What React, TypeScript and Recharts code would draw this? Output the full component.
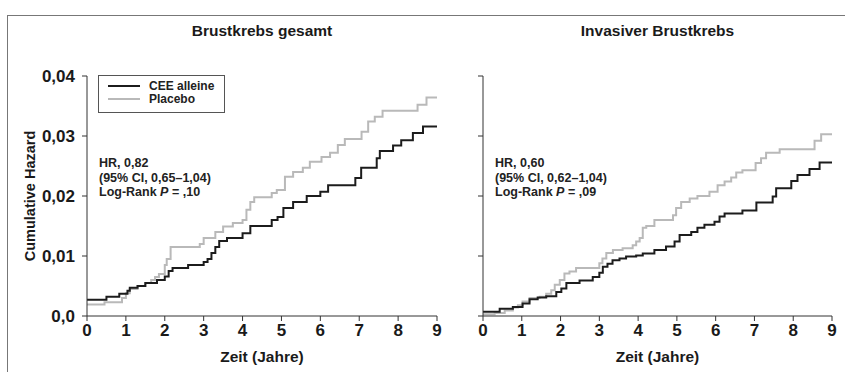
import { LineChart, Line, XAxis, YAxis } from "recharts";

// Brustkrebs gesamt
const gesamtCeeZeit = [0, 0.5, 0.83, 1.04, 1.1, 1.3, 1.5, 1.8, 2.0, 2.1, 2.2, 2.6, 3.0, 3.1, 3.2, 3.3, 3.4, 3.6, 4.0, 4.2, 4.75, 4.9, 5.05, 5.3, 5.65, 6.0, 6.2, 6.9, 7.05, 7.45, 7.53, 7.87, 8.08, 8.38, 8.64, 9.0];
const gesamtCeeHazard = [0.0027, 0.0032, 0.0037, 0.0042, 0.0047, 0.005, 0.0055, 0.006, 0.0066, 0.0075, 0.008, 0.0085, 0.009, 0.0095, 0.0105, 0.0115, 0.0125, 0.013, 0.0138, 0.015, 0.016, 0.0165, 0.018, 0.019, 0.02, 0.0207, 0.0218, 0.023, 0.0247, 0.0263, 0.0275, 0.0284, 0.0293, 0.0305, 0.0316, 0.0316];
const gesamtPlaceboZeit = [0, 0.45, 0.9, 1.0, 1.1, 1.3, 1.5, 1.65, 1.75, 1.85, 2.0, 2.05, 2.15, 2.9, 3.0, 3.3, 3.5, 3.75, 4.0, 4.1, 4.2, 4.3, 4.75, 4.88, 5.09, 5.3, 5.55, 5.73, 6.03, 6.25, 6.45, 6.63, 7.06, 7.23, 7.4, 7.6, 8.5, 8.73, 9.0];
const gesamtPlaceboHazard = [0.0019, 0.0023, 0.003, 0.0038, 0.0045, 0.005, 0.0055, 0.006, 0.0065, 0.007, 0.0085, 0.0095, 0.0115, 0.012, 0.013, 0.014, 0.0149, 0.0155, 0.016, 0.0177, 0.019, 0.0198, 0.0205, 0.021, 0.0232, 0.024, 0.0247, 0.0257, 0.0265, 0.0272, 0.0285, 0.0295, 0.0307, 0.0324, 0.0332, 0.0342, 0.0352, 0.0364, 0.0364];

// Invasiver Brustkrebs
const invasivCeeZeit = [0, 0.43, 0.77, 1.02, 1.2, 1.41, 1.63, 1.89, 2.02, 2.15, 2.49, 2.83, 3.0, 3.09, 3.21, 3.34, 3.52, 3.69, 3.95, 4.12, 4.42, 4.72, 4.94, 5.07, 5.37, 5.53, 5.71, 5.97, 6.1, 6.23, 6.69, 7.05, 7.47, 7.56, 7.95, 8.11, 8.42, 8.68, 9.0];
const invasivCeeHazard = [0.0007, 0.0012, 0.0015, 0.0021, 0.0028, 0.0031, 0.0033, 0.004, 0.0046, 0.0055, 0.0059, 0.0065, 0.0072, 0.0082, 0.0087, 0.0093, 0.0096, 0.0099, 0.0101, 0.0104, 0.011, 0.0116, 0.0124, 0.0135, 0.014, 0.0147, 0.0152, 0.0157, 0.0166, 0.0171, 0.0176, 0.0189, 0.0199, 0.0213, 0.0225, 0.0235, 0.0245, 0.0256, 0.0256];
const invasivPlaceboZeit = [0, 0.3, 0.56, 0.77, 0.9, 1.02, 1.2, 1.46, 1.63, 1.76, 1.85, 1.98, 2.1, 2.23, 2.4, 3.0, 3.08, 3.18, 3.35, 3.6, 3.86, 3.95, 4.04, 4.12, 4.21, 4.42, 4.9, 4.98, 5.11, 5.33, 5.53, 5.84, 6.05, 6.23, 6.4, 6.53, 6.69, 7.03, 7.17, 7.3, 7.65, 8.55, 8.72, 9.0];
const invasivPlaceboHazard = [0.0003, 0.0005, 0.0009, 0.0014, 0.0018, 0.0024, 0.003, 0.0032, 0.0037, 0.0043, 0.0052, 0.006, 0.0071, 0.0074, 0.008, 0.0088, 0.0096, 0.0105, 0.011, 0.0113, 0.0118, 0.0124, 0.013, 0.0147, 0.015, 0.016, 0.0168, 0.018, 0.019, 0.0196, 0.02, 0.0207, 0.0218, 0.0224, 0.0231, 0.0239, 0.0243, 0.0255, 0.0263, 0.0272, 0.0278, 0.0292, 0.0303, 0.0303];

const xTicks = [0, 1, 2, 3, 4, 5, 6, 7, 8, 9];
const yTicks = [0, 0.01, 0.02, 0.03, 0.04];

const FONT = "'Liberation Sans', Arial, sans-serif";
const BLACK = "#1c1c1c";
const GRAY = "#b9b9b9";
const AXIS = "#333";

const toPoints = (zeit: number[], hazard: number[]) => zeit.map((t, i) => ({ t, h: hazard[i] }));
const fmtY = (v: number) => (v === 0 ? "0,0" : v.toFixed(2).replace(".", ","));

function LegendBox() {
  const row = (color: string, label: string) => (
    <div style={{ display: "flex", alignItems: "center", height: 13 }}>
      <div style={{ width: 32, height: 2, background: color, marginRight: 9 }} />
      <span>{label}</span>
    </div>
  );
  return (
    <div style={{ position: "absolute", left: 98, top: 75, width: 116, height: 30, border: "1px solid #555", padding: "3px 0 3px 9px", fontFamily: FONT, fontWeight: "bold", fontSize: 12, color: "#222", background: "#fff" }}>
      {row(BLACK, "CEE alleine")}
      {row(GRAY, "Placebo")}
    </div>
  );
}

function Stats({ left, hr, ci, p }: { left: number; hr: string; ci: string; p: string }) {
  return (
    <div style={{ position: "absolute", left, top: 156, fontFamily: FONT, fontWeight: "bold", fontSize: 12.5, lineHeight: "14.5px", color: "#222" }}>
      <div>HR, {hr}</div>
      <div>(95% CI, {ci})</div>
      <div>Log-Rank <i>P</i> = {p}</div>
    </div>
  );
}

const noLabel = () => <g />;

function Panel({ cee, placebo, showY, width, marginLeft, marginRight, yWidth }: any) {
  return (
    <LineChart width={width} height={372} margin={{ top: 76, right: marginRight, bottom: 0, left: marginLeft }}>
      <XAxis
        dataKey="t"
        type="number"
        domain={[0, 9]}
        ticks={xTicks}
        allowDataOverflow
        height={56}
        stroke={AXIS}
        tickSize={5}
        tickMargin={3}
        tick={{ fill: "#1a1a1a", fontSize: 17, fontFamily: FONT, fontWeight: "bold" }}
        label={{ value: "Zeit (Jahre)", position: "insideBottom", offset: 10, fill: "#1a1a1a", fontSize: 15.5, fontFamily: FONT, fontWeight: "bold" }}
      />
      <YAxis
        type="number"
        domain={[0, 0.04]}
        ticks={yTicks}
        width={yWidth}
        stroke={AXIS}
        tickSize={5}
        tickMargin={7}
        tickFormatter={fmtY}
        tick={showY ? { fill: "#1a1a1a", fontSize: 17, fontFamily: FONT, fontWeight: "bold" } : noLabel}
        label={showY ? { value: "Cumulative Hazard", angle: -90, position: "insideLeft", offset: 4, style: { textAnchor: "middle" }, fill: "#1a1a1a", fontSize: 14.5, fontFamily: FONT, fontWeight: "bold" } : undefined}
      />
      <Line data={placebo} dataKey="h" name="Placebo" type="stepAfter" stroke={GRAY} strokeWidth={2} dot={false} isAnimationActive={false} />
      <Line data={cee} dataKey="h" name="CEE alleine" type="stepAfter" stroke={BLACK} strokeWidth={2} dot={false} isAnimationActive={false} />
    </LineChart>
  );
}

const titleStyle = { position: "absolute" as const, top: 22, fontFamily: FONT, fontWeight: "bold", fontSize: 15.5, color: "#1a1a1a", textAlign: "center" as const };

export default function App() {
  return (
    <div style={{ position: "absolute", left: 0, top: 0, width: 845, height: 372, background: "#fff", overflow: "hidden" }}>
      <div style={{ position: "absolute", left: 7, top: 15, width: 900, height: 400, borderLeft: "1.5px solid #777", borderTop: "1.5px solid #777" }} />
      <div style={{ position: "absolute", left: 0, top: 0 }}>
        <Panel cee={toPoints(gesamtCeeZeit, gesamtCeeHazard)} placebo={toPoints(gesamtPlaceboZeit, gesamtPlaceboHazard)} showY width={460} marginLeft={26} marginRight={23} yWidth={61} />
      </div>
      <div style={{ position: "absolute", left: 440, top: 0 }}>
        <Panel cee={toPoints(invasivCeeZeit, invasivCeeHazard)} placebo={toPoints(invasivPlaceboZeit, invasivPlaceboHazard)} showY={false} width={405} marginLeft={0} marginRight={13} yWidth={43} />
      </div>
      <LegendBox />
      <div style={{ ...titleStyle, left: 87, width: 350 }}>Brustkrebs gesamt</div>
      <div style={{ ...titleStyle, left: 483, width: 349 }}>Invasiver Brustkrebs</div>
      <Stats left={99} hr="0,82" ci="0,65–1,04" p=",10" />
      <Stats left={495} hr="0,60" ci="0,62–1,04" p=",09" />
    </div>
  );
}
